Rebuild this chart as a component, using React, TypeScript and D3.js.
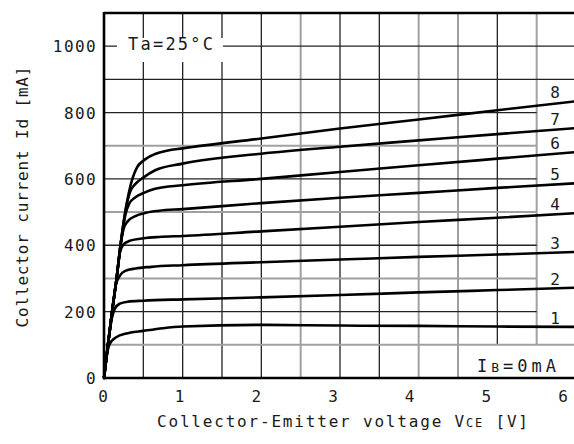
import React from "react";
import * as d3 from "d3";

// ---- data ----
const X_TICKS = [0, 1, 2, 3, 4, 5, 6];
const Y_TICKS = [0, 200, 400, 600, 800, 1000];
const X_GRID = [0.5, 1, 1.5, 2, 2.5, 3, 3.5, 4, 4.5, 5, 5.5];
const Y_GRID = [100, 200, 300, 400, 500, 600, 700, 800, 900, 1000];
const IB_LABELS = ["1", "2", "3", "4", "5", "6", "7", "8"];

const curveIB1: [number, number][] = [
  [0, 0], [0.03, 60], [0.06, 95], [0.1, 112], [0.15, 122], [0.3, 135], [0.5, 142],
  [0.75, 150], [1, 155], [2, 160], [3, 158], [4, 157], [5, 155], [6, 154],
];
const curveIB2: [number, number][] = [
  [0, 0], [0.05, 100], [0.1, 180], [0.14, 210], [0.2, 224], [0.3, 230], [0.5, 233],
  [1, 237], [2, 243], [3, 250], [4, 258], [5, 265], [6, 272],
];
const curveIB3: [number, number][] = [
  [0, 0], [0.05, 100], [0.1, 195], [0.15, 280], [0.2, 308], [0.27, 323], [0.4, 330],
  [0.6, 335], [1, 340], [2, 349], [3, 357], [4, 365], [5, 372], [6, 380],
];
const curveIB4: [number, number][] = [
  [0, 0], [0.05, 100], [0.1, 195], [0.16, 300], [0.2, 375], [0.24, 400], [0.33, 414],
  [0.5, 421], [0.7, 425], [1, 428], [2, 442], [3, 456], [4, 470], [5, 483], [6, 497],
];
const curveIB5: [number, number][] = [
  [0, 0], [0.05, 100], [0.1, 195], [0.16, 300], [0.21, 400], [0.25, 450], [0.3, 472],
  [0.4, 488], [0.5, 496], [0.7, 504], [1, 509], [2, 527], [3, 543], [4, 558], [5, 573], [6, 587],
];
const curveIB6: [number, number][] = [
  [0, 0], [0.05, 100], [0.1, 195], [0.16, 300], [0.21, 400], [0.27, 490], [0.32, 525],
  [0.4, 545], [0.5, 557], [0.65, 570], [1, 581], [2, 600], [3, 621], [4, 641], [5, 661], [6, 681],
];
const curveIB7: [number, number][] = [
  [0, 0], [0.05, 100], [0.1, 195], [0.16, 300], [0.21, 400], [0.27, 500], [0.33, 560],
  [0.4, 585], [0.5, 604], [0.65, 626], [1, 646], [2, 676], [3, 697], [4, 716], [5, 735], [6, 753],
];
const curveIB8: [number, number][] = [
  [0, 0], [0.05, 100], [0.1, 195], [0.16, 300], [0.21, 400], [0.27, 500], [0.36, 600],
  [0.42, 635], [0.5, 655], [0.65, 675], [0.8, 685], [1, 692], [2, 722], [3, 752],
  [4, 779], [5, 807], [6, 834],
];
const CURVES = [curveIB1, curveIB2, curveIB3, curveIB4, curveIB5, curveIB6, curveIB7, curveIB8];

// grid lines rendered lighter in the scan
const LIGHT_X = [2.5, 4, 4.5, 5.5];
const LIGHT_Y = [100, 300, 500, 700];

const W = 574;
const H = 444;
const FONT = "'DejaVu Sans Mono', 'Liberation Mono', monospace";

export default function App() {
  const x = d3.scaleLinear().domain([0, 6]).range([104, 576]);
  const y = d3.scaleLinear().domain([0, 1100]).range([378, 13]);
  const xLabel = d3.scaleLinear().domain([0, 6]).range([103, 563]);

  const line = d3
    .line<[number, number]>()
    .x((d) => x(d[0]))
    .y((d) => y(d[1]))
    .curve(d3.curveMonotoneX);

  const dark = "#222";
  const light = "#a0a0a0";
  const txt = "#1a1a1a";

  return (
    <svg
      width={W}
      height={H}
      style={{ position: "absolute", left: 0, top: 0, background: "#fff" }}
      fontFamily={FONT}
    >
      <rect x={0} y={0} width={W} height={H} fill="#fff" />
      {/* vertical grid */}
      {X_GRID.map((v) => {
        const isLight = LIGHT_X.includes(v);
        const bottom = v >= 5 ? y(100) : y(0);
        return (
          <line
            key={"vx" + v}
            x1={x(v)}
            x2={x(v)}
            y1={y(1100)}
            y2={bottom}
            stroke={isLight ? light : dark}
            strokeWidth={isLight ? 2 : 1.3}
          />
        );
      })}
      {/* horizontal grid */}
      {Y_GRID.map((v) => {
        const isLight = LIGHT_Y.includes(v);
        const right = v >= 900 || v === 100 ? x(6) : x(5.5);
        return (
          <line
            key={"hy" + v}
            x1={x(0)}
            x2={right}
            y1={y(v)}
            y2={y(v)}
            stroke={isLight ? light : dark}
            strokeWidth={isLight ? 2 : 1.3}
          />
        );
      })}
      {/* annotation boxes clear the grid */}
      <rect x={117} y={38} width={106} height={24} fill="#fff" />
      <rect x={x(4.5) + 1.5} y={y(100) + 1.5} width={W} height={y(0) - y(100) - 3} fill="#fff" />

      {/* curves */}
      {CURVES.map((c, i) => (
        <path key={"c" + i} d={line(c) || ""} fill="none" stroke="#000" strokeWidth={2.6} strokeLinejoin="round" />
      ))}

      {/* axes frame */}
      <line x1={x(0)} x2={x(0)} y1={y(1100) - 1} y2={y(0) + 1.5} stroke="#000" strokeWidth={2.6} />
      <line x1={x(0)} x2={W} y1={y(1100)} y2={y(1100)} stroke="#000" strokeWidth={2.4} />
      <line x1={x(0)} x2={W} y1={y(0)} y2={y(0)} stroke="#000" strokeWidth={2.6} />

      {/* curve labels */}
      {CURVES.map((c, i) => (
        <text key={"l" + i} x={555} y={y(c[c.length - 1][1]) - 3} fontSize={16} textAnchor="middle" fill={txt}>
          {IB_LABELS[i]}
        </text>
      ))}

      {/* y tick labels */}
      {Y_TICKS.map((v) => (
        <text key={"yt" + v} x={97} y={y(v) + 6} fontSize={16} letterSpacing={1.4} textAnchor="end" fill={txt}>
          {v}
        </text>
      ))}
      {/* x tick labels */}
      {X_TICKS.map((v) => (
        <text key={"xt" + v} x={xLabel(v)} y={402} fontSize={16} textAnchor="middle" fill={txt}>
          {v}
        </text>
      ))}

      {/* annotations */}
      <text x={128} y={50} fontSize={17} textLength={85} lengthAdjust="spacing" fill={txt}>
        Ta=25°C
      </text>
      <text x={477} y={372} fontSize={17} textLength={79} lengthAdjust="spacing" fill={txt}>
        I<tspan fontSize={13}>B</tspan>=0mA
      </text>

      {/* axis titles */}
      <text x={157} y={427} fontSize={16} textLength={371} lengthAdjust="spacing" fill={txt}>
        Collector-Emitter voltage V<tspan fontSize={12}>CE</tspan> [V]
      </text>
      <text
        transform="translate(28,197) rotate(-90)"
        x={0}
        y={0}
        fontSize={16}
        textAnchor="middle"
        textLength={261}
        lengthAdjust="spacing"
        fill={txt}
      >
        Collector current Id [mA]
      </text>
    </svg>
  );
}
